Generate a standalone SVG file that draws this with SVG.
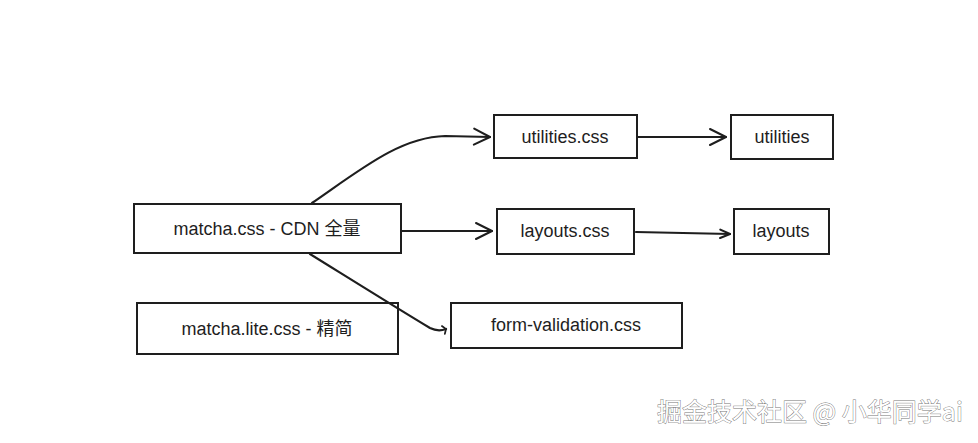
<svg xmlns="http://www.w3.org/2000/svg" width="978" height="443" viewBox="0 0 978 443">
<defs>
<marker id="arr" viewBox="0 0 20 20" refX="18" refY="10" markerWidth="20" markerHeight="20" markerUnits="userSpaceOnUse" orient="auto">
<path d="M2,2 L18,10 L2,18" fill="none" stroke="#1e1e1e" stroke-width="2" stroke-linecap="round" stroke-linejoin="round"/>
</marker>
<marker id="arrs" viewBox="0 0 20 20" refX="18" refY="10" markerWidth="14" markerHeight="14" markerUnits="userSpaceOnUse" orient="auto">
<path d="M4,4 L18,10 L4,16" fill="none" stroke="#1e1e1e" stroke-width="3" stroke-linecap="round" stroke-linejoin="round"/>
</marker>
<marker id="bar" viewBox="0 0 20 20" refX="10" refY="10" markerWidth="14" markerHeight="14" markerUnits="userSpaceOnUse" orient="auto">
<path d="M6,4 L10,10 L6,16" fill="none" stroke="#1e1e1e" stroke-width="2.5" stroke-linecap="round"/>
</marker>
</defs>
<style>
.box{fill:none;stroke:#1e1e1e;stroke-width:2}
.lbl{font-family:"Liberation Sans","Noto Sans CJK SC",sans-serif;font-size:18px;fill:#1e1e1e;text-anchor:middle;dominant-baseline:central}
.edge{fill:none;stroke:#1e1e1e;stroke-width:2.2;stroke-linecap:round}
.wm{font-family:"Noto Sans CJK SC","Liberation Sans",sans-serif;font-size:25px;fill:#fff;stroke:#777;stroke-width:0.9;paint-order:stroke}
</style>
<rect width="978" height="443" fill="#fff"/>
<g id="connectors">
<path class="edge" d="M312,203 C360,170 400,137 445,136 L490,137" marker-end="url(#arr)"/>
<path class="edge" d="M402,231 L492,231" marker-end="url(#arr)"/>
<path class="edge" d="M310,254 C360,285 400,310 430,328 Q438,332 446,329" marker-end="url(#bar)"/>
<path class="edge" d="M638,137 L726,137" marker-end="url(#arr)"/>
<path class="edge" d="M636,232 L730,234" marker-end="url(#arrs)"/>
</g>
<g id="n-matcha">
<rect class="box" x="134" y="204" width="267" height="49"/>
<text class="lbl" x="267" y="229">matcha.css - CDN 全量</text>
</g>
<g id="n-lite">
<rect class="box" x="137" y="303" width="261" height="51"/>
<text class="lbl" x="267" y="329">matcha.lite.css - 精简</text>
</g>
<g id="n-utilcss">
<rect class="box" x="494" y="115" width="143" height="43"/>
<text class="lbl" x="565" y="137">utilities.css</text>
</g>
<g id="n-util">
<rect class="box" x="731" y="115" width="102" height="44"/>
<text class="lbl" x="782" y="137">utilities</text>
</g>
<g id="n-laycss">
<rect class="box" x="497" y="209" width="137" height="45"/>
<text class="lbl" x="565" y="231">layouts.css</text>
</g>
<g id="n-lay">
<rect class="box" x="734" y="209" width="95" height="45"/>
<text class="lbl" x="781" y="231">layouts</text>
</g>
<g id="n-form">
<rect class="box" x="451" y="303" width="231" height="45"/>
<text class="lbl" x="566" y="325">form-validation.css</text>
</g>
<text class="wm" x="657" y="421">掘金技术社区 @ 小华同学ai</text>
</svg>
